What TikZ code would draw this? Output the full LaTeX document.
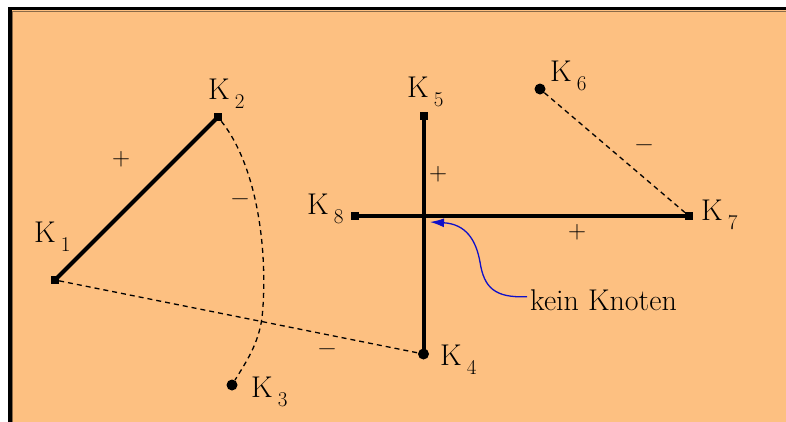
\documentclass[tikz,border=0pt]{standalone}
\usepackage{fontspec}
\usetikzlibrary{arrows.meta}
\definecolor{Peach}{HTML}{FDC081}
\definecolor{Shade}{HTML}{8A6A48}
\definecolor{Hint}{HTML}{1010C8}
\newcommand{\Klab}[1]{K\,\raisebox{-9pt}{\fontsize{21}{21}\selectfont #1}}

\begin{document}
\begin{tikzpicture}[x=1pt,y=-1pt,
  knot/.style={fill=black,inner sep=0pt},
  sqknot/.style={knot,rectangle,minimum size=8pt},
  rdknot/.style={knot,circle,minimum size=11pt},
  klabel/.style={font=\fontsize{30}{30}\selectfont,inner sep=0pt,anchor=base west},
  sign/.style={font=\fontsize{25}{25}\selectfont,inner sep=0pt},
  posedge/.style={line width=4pt},
  negedge/.style={line width=1.3pt,dash pattern=on 5pt off 4pt}]
\useasboundingbox (0,0) rectangle (786,421);
% frame and background
\fill[white] (-5,-5) rectangle (795,430);
\fill[Peach] (10,9) rectangle (795,430);
\draw[Shade,line width=1pt] (12.5,430)--(12.5,11.5)--(795,11.5);
\draw[line width=3.5pt] (10,430)--(10,8.5)--(795,8.5);
% knots
\node[sqknot] (k1) at (55,280) {};
\node[sqknot] (k2) at (218,117) {};
\node[rdknot] (k3) at (232,385) {};
\node[rdknot] (k4) at (423.5,354) {};
\node[sqknot] (k5) at (423.5,116) {};
\node[rdknot] (k6) at (540,89) {};
\node[sqknot] (k7) at (689,216) {};
\node[sqknot] (k8) at (355,216) {};
% labels
\node[klabel] (l1) at (34,242) {\Klab{1}};
\node[klabel] (l2) at (208,99) {\Klab{2}};
\node[klabel] (l3) at (251,397) {\Klab{3}};
\node[klabel] (l4) at (440,365) {\Klab{4}};
\node[klabel] (l5) at (407,97) {\Klab{5}};
\node[klabel] (l6) at (550,81) {\Klab{6}};
\node[klabel] (l7) at (701,220) {\Klab{7}};
\node[klabel] (l8) at (307,214) {\Klab{8}};
% edges
\draw[posedge] (k1.center)--(k2.center);
\draw[posedge] (k5.center)--(k4.center);
\draw[posedge] (k8.center)--(k7.center);
\draw[negedge] (k1)--(k4);
\draw[negedge] (k6)--(k7);
\draw[negedge] (k2) .. controls (260,170) and (268,260) .. (262,318)
  .. controls (258,345) and (246,362) .. (k3);
% signs
\node[sign] (s12) at (121,159) {+};
\node[sign] (s23) at (240,202) {\symbol{"2212}};
\node[sign] (s54) at (438,174) {+};
\node[sign] (s87) at (577,232) {+};
\node[sign] (s67) at (644,148) {\symbol{"2212}};
\node[sign] (s14) at (327,352) {\symbol{"2212}};
% no knot at the crossing
\coordinate (gap) at (430,222);
\node[klabel] (hint) at (530,310) {kein Knoten};
\draw[Hint,line width=1.3pt,-{Latex[length=14pt,width=9pt]}]
  ([xshift=-3pt,yshift=3pt]hint.west) .. controls (495,298) and (484,288) .. (480,262)
  .. controls (476,240) and (466,224) .. (gap);
\end{tikzpicture}
\end{document}
